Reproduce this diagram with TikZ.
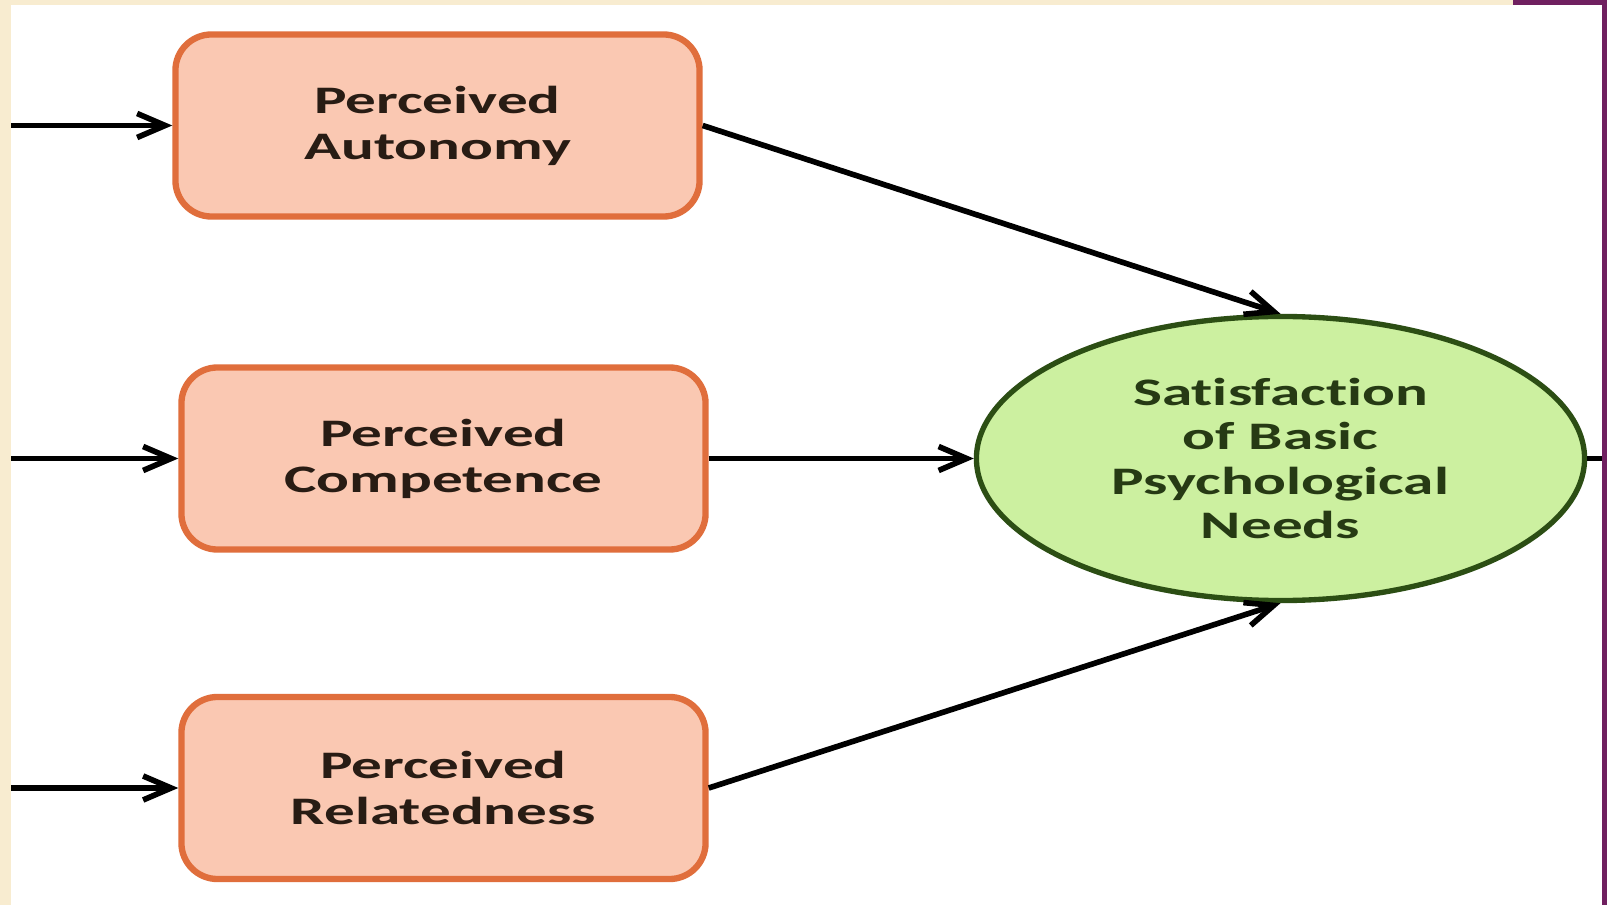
\documentclass[tikz,border=0pt]{standalone}
\usepackage{fontspec}
\setmainfont{Carlito}[FakeStretch=1.57,Ligatures=NoCommon]
\usetikzlibrary{shapes.geometric,arrows.meta}
\definecolor{pagebeige}{RGB}{248,236,208}
\definecolor{pageplum}{RGB}{112,32,96}
\definecolor{boxfill}{RGB}{250,200,178}
\definecolor{boxline}{RGB}{224,110,60}
\definecolor{boxtext}{RGB}{40,28,20}
\definecolor{needfill}{RGB}{204,240,160}
\definecolor{needline}{RGB}{44,78,20}
\definecolor{needtext}{RGB}{38,58,20}
\tikzset{perceived/.style={
		rectangle,
		rounded corners=0.9cm,
		minimum width=13.1cm,
		minimum height=4.55cm,
		line width=4.5pt,
		draw=boxline,
		fill=boxfill,
		text=boxtext,
		align=center,
		font=\fontsize{27.7}{32.7}\selectfont\bfseries},
	need/.style={
		ellipse,
		minimum width=15.2cm,
		minimum height=7.1cm,
		inner sep=0pt,
		line width=3.8pt,
		draw=needline,
		fill=needfill,
		text=needtext,
		align=center,
		font=\fontsize{27.7}{31.5}\selectfont\bfseries},
	link/.style={
		line width=4pt,
		-{Straight Barb[length=0.7cm,width=0.6cm]}}
	}

\begin{document}
\begin{tikzpicture}[x=0.025cm,y=-0.025cm]
			\useasboundingbox (0,0) rectangle (1607,905);
			\fill[pagebeige] (0,0) rectangle (1607,905);
			\fill[pageplum] (1513,0) rectangle (1607,905);
			\fill[white] (11,5) rectangle (1602,905);
			\node [perceived] (auto) at (437.5,125.5) {Perceived\\Autonomy};
			\node [perceived] (comp) at (443.5,458.5) {Perceived\\Competence};
			\node [perceived] (rel) at (443.5,788) {Perceived\\Relatedness};
			\node [need] (sat) at (1280.5,458.5) {Satisfaction\\of Basic\\Psychological\\Needs};
			\coordinate (inauto) at (11,125.5);
			\coordinate (incomp) at (11,458.5);
			\coordinate (inrel) at (11,788);
			\coordinate (outsat) at (1602,458.5);
			\draw[link] (inauto) -- (auto);
			\draw[link] (incomp) -- (comp);
			\draw[link] (inrel) -- (rel);
			\draw[link] (auto.east) -- (sat.north);
			\draw[link] (comp) -- (sat);
			\draw[link] (rel.east) -- (sat.south);
			\draw[line width=4pt] (sat) -- (outsat);
		\end{tikzpicture}
\end{document}
